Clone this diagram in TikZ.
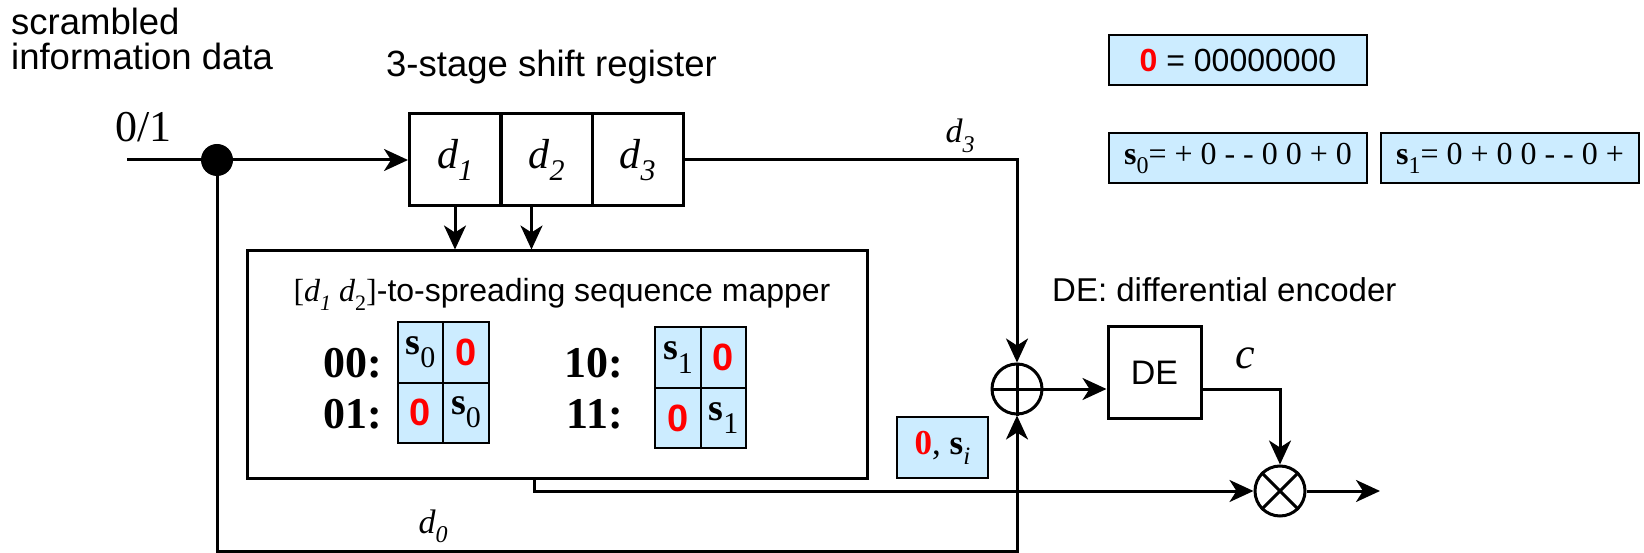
\documentclass[tikz,border=0pt]{standalone}
\usepackage{fontspec}
\setmainfont{Liberation Sans}
\newfontfamily\tms{Liberation Serif}
\usetikzlibrary{arrows.meta,calc}
\definecolor{lblue}{RGB}{204,236,255}
\definecolor{zred}{RGB}{255,0,0}
\newcommand{\fsz}[1]{\fontsize{#1}{#1}\selectfont}
\newcommand{\lowr}[1]{\raisebox{-0.28em}{#1}}
\tikzset{
  wire/.style={line width=3pt},
  arr/.style={line width=3pt,-{Stealth[length=24pt,width=22pt,inset=7pt]}},
  regcell/.style={draw,line width=3pt,minimum width=91pt,minimum height=92pt,inner sep=0pt},
  cell/.style={draw,line width=2pt,fill=lblue,minimum width=45.5pt,minimum height=60pt,inner sep=0pt},
  legend/.style={draw,line width=2pt,fill=lblue,minimum width=258pt,minimum height=50pt,inner sep=0pt},
  opcircle/.style={draw,circle,line width=3pt,minimum size=50pt,inner sep=0pt},
  txt/.style={inner sep=0pt}
}
\newcommand{\zr}{\textcolor{zred}{\bfseries\fsz{38}0}}
\newcommand{\sv}[1]{{\tms\fsz{38}\textbf{s}\raisebox{-0.35em}{\fsz{30}#1}}}
\begin{document}
\begin{tikzpicture}[x=1pt,y=-1pt]
\useasboundingbox (0,0) rectangle (1644,553);

% top labels
\node[txt,anchor=base west] (lab1) at (11,35) {\fsz{36.5}scrambled};
\node[txt,anchor=base west] (lab2) at (11,70) {\fsz{36.5}information data};
\node[txt,anchor=base west] (lab3) at (386,77) {\fsz{36.5}3-stage shift register};

% input
\coordinate (in) at (127,160);
\node[txt,anchor=base west] (in01) at (115,142) {\tms\fsz{44}0/1};

% shift register
\node[regcell] (r1) at (455,160) {\tms\itshape\fsz{42}d\lowr{\fsz{30}1}};
\node[regcell] (r2) at (546.5,160) {\tms\itshape\fsz{42}d\lowr{\fsz{30}2}};
\node[regcell] (r3) at (637.5,160) {\tms\itshape\fsz{42}d\lowr{\fsz{30}3}};

% mapper
\node[draw,line width=3pt,minimum width=620pt,minimum height=227pt,inner sep=0pt] (mapper) at (557,364.5) {};
\node[txt,anchor=base] (mtitle) at (562,302) {\fsz{32}{\tms[\itshape d\lowr{\fsz{22}1} d\lowr{\fsz{22}\upshape 2}\upshape]}-to-spreading sequence mapper};

% 00/01 cells
\node[cell] (a1) at (420.5,352.5) {\sv{0}};
\node[cell] (a2) at (466,352.5) {\zr};
\node[cell] (a3) at (420.5,412.5) {\zr};
\node[cell] (a4) at (466,412.5) {\sv{0}};
% 10/11 cells
\node[cell] (b1) at (678,357.5) {\sv{1}};
\node[cell] (b2) at (723.5,357.5) {\zr};
\node[cell] (b3) at (678,418) {\zr};
\node[cell] (b4) at (723.5,418) {\sv{1}};

\node[txt,anchor=base east] (l00) at (382,377) {\tms\bfseries\fsz{44}00:};
\node[txt,anchor=base east] (l01) at (382,428) {\tms\bfseries\fsz{44}01:};
\node[txt,anchor=base east] (l10) at (623,377) {\tms\bfseries\fsz{44}10:};
\node[txt,anchor=base east] (l11) at (623,428) {\tms\bfseries\fsz{44}11:};

% xor, DE, multiplier
\node[opcircle] (xor) at (1017,389) {};
\draw[wire] (xor.north) -- (xor.south) (xor.west) -- (xor.east);
\node[draw,line width=3pt,minimum width=93pt,minimum height=91pt,inner sep=0pt] (de) at (1154.5,372.5) {\fsz{34}DE};
\node[opcircle] (mult) at (1280,491) {};
\draw[wire] (mult.north east) -- (mult.south west) (mult.north west) -- (mult.south east);
\coordinate (out) at (1380,491);
\coordinate (fb) at (1017,551);

\node[txt,anchor=base west] (delab) at (1052,302) {\fsz{33}DE: differential encoder};
\node[txt,anchor=base] (clab) at (1245,368) {\tms\itshape\fsz{44}c};
\node[txt,anchor=base] (d3lab) at (960,143) {\tms\itshape\fsz{34}d\lowr{\fsz{24}3}};
\node[txt,anchor=base] (d0lab) at (433,533) {\tms\itshape\fsz{34}d\lowr{\fsz{24}0}};

\node[draw,line width=2pt,fill=lblue,minimum width=91pt,minimum height=61pt,inner sep=0pt] (zs) at (942.5,447.5)
  {\tms\fsz{35}\textcolor{zred}{\bfseries 0}, \textbf{s}\lowr{\itshape\fsz{25}i}};

% legends
\node[legend] (lz) at (1238,60) {\fsz{32}\textcolor{zred}{\bfseries 0} = 00000000};
\node[legend] (ls0) at (1238,158) {\tms\fsz{32}\textbf{s}\lowr{\fsz{24}0}= + 0 - - 0 0 + 0};
\node[legend] (ls1) at (1510,158) {\tms\fsz{32}\textbf{s}\lowr{\fsz{24}1}= 0 + 0 0 - - 0 +};

% connectors
\draw[arr] (in) -- (r1.west);
\node[circle,fill=black,minimum size=32pt,inner sep=0pt] (dot) at (217,160) {};
\draw[arr] (r1.south) -- (r1.south |- mapper.north);
\draw[arr] ([xshift=-15pt]r2.south) -- ([xshift=-15pt]r2.south |- mapper.north);
\draw[arr] (r3.east) -| (xor.north);
\draw[arr] (dot) |- (fb) -- (xor.south);
\draw[arr] (xor.east) -- (xor -| de.west);
\draw[arr] (xor -| de.east) -| (mult.north);
\draw[arr] ([xshift=-23pt]mapper.south) |- (mult.west);
\draw[arr] (mult.east) -- (out);
\end{tikzpicture}
\end{document}
